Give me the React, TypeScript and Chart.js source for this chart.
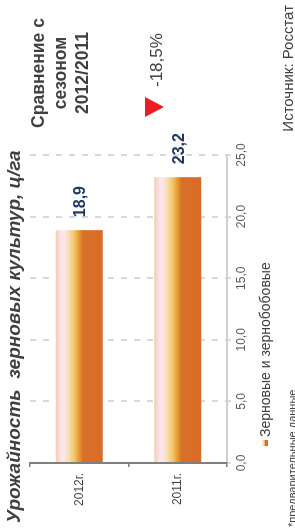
import React, { useEffect, useRef } from "react";
import { Chart, registerables } from "chart.js";

Chart.register(...registerables);

// ---- data ----
const categories = ["2012г.", "2011г."];
const yieldValues = [18.9, 23.2];
const seriesName = "Зерновые и зернобобовые";
const axisMin = 0;
const axisMax = 25;
const axisStep = 5;
const titleText = "Урожайность  зерновых культур, ц/га";
const compareLines = ["Сравнение с", "сезоном", "2012/2011"];
const changeText = "-18,5%";
const sourceText = "Источник: Росстат";
const footnoteText = "*предварительные данные";

const FONT = "'Liberation Sans', Arial, sans-serif";
const BAR_PCT = 0.477;
const W = 528;
const H = 295;

const fmt = (v: number) => v.toFixed(1).replace(".", ",");

function barGradient(ctx: CanvasRenderingContext2D, top: number, bottom: number) {
  const g = ctx.createLinearGradient(0, top, 0, bottom);
  g.addColorStop(0, "#f5cdb0");
  g.addColorStop(0.1, "#fbe2e6");
  g.addColorStop(0.17, "#fce6ee");
  g.addColorStop(0.28, "#f8dcb0");
  g.addColorStop(0.4, "#f1c468");
  g.addColorStop(0.5, "#e4982c");
  g.addColorStop(0.58, "#d9702a");
  g.addColorStop(1, "#d86c27");
  return g;
}

const annotate = {
  id: "annotate",
  afterDatasetsDraw(chart: any) {
    const { ctx } = chart;
    const meta = chart.getDatasetMeta(0);
    ctx.save();
    ctx.font = `bold 16px ${FONT}`;
    ctx.fillStyle = "#1f3864";
    ctx.textAlign = "left";
    ctx.textBaseline = "alphabetic";
    meta.data.forEach((bar: any, i: number) => {
      const { x, y } = bar.getProps(["x", "y"], true);
      ctx.fillText(fmt(yieldValues[i]), x + 13, y + 6);
    });
    ctx.restore();
  },
  afterDraw(chart: any) {
    const { ctx, chartArea } = chart;
    ctx.save();
    ctx.textBaseline = "alphabetic";
    // title
    ctx.fillStyle = "#404040";
    ctx.textAlign = "left";
    ctx.font = `italic bold 19px ${FONT}`;
    ctx.fillText(titleText, 5, 20);

    // comparison block
    ctx.font = `bold 17.5px ${FONT}`;
    ctx.textAlign = "center";
    const cx = 455;
    compareLines.forEach((t, i) => ctx.fillText(t, cx, 44 + i * 22));

    // triangle + change
    ctx.fillStyle = "#ee1c25";
    ctx.beginPath();
    ctx.moveTo(411, 145);
    ctx.lineTo(431, 145);
    ctx.lineTo(421, 164);
    ctx.closePath();
    ctx.fill();
    ctx.fillStyle = "#404040";
    ctx.textAlign = "left";
    ctx.font = `17px ${FONT}`;
    ctx.fillText(changeText, 441, 162);

    // legend
    const lx = chartArea.left + 17;
    ctx.fillStyle = barGradient(ctx, 262, 268);
    ctx.fillRect(lx, 262, 6, 6);
    ctx.fillStyle = "#404040";
    ctx.font = `14px ${FONT}`;
    ctx.fillText(seriesName, lx + 9, 270);

    // source
    ctx.textAlign = "right";
    ctx.font = `15px ${FONT}`;
    ctx.fillText(sourceText, 523, 293);

    // footnote
    ctx.textAlign = "left";
    ctx.font = `11px ${FONT}`;
    ctx.fillText(footnoteText, 1, 296);
    ctx.restore();
  },
};

export default function App() {
  const ref = useRef<HTMLCanvasElement | null>(null);

  useEffect(() => {
    document.body.style.margin = "0";
    const canvas = ref.current;
    if (!canvas) return;
    const chart = new Chart(canvas, {
      type: "bar",
      data: {
        labels: categories,
        datasets: [
          {
            label: seriesName,
            data: yieldValues,
            barPercentage: BAR_PCT,
            categoryPercentage: 1,
            borderWidth: 0,
            backgroundColor: (c: any) => {
              const ch = c.chart;
              const ys = ch.scales && ch.scales.y;
              if (!ys || c.dataIndex === undefined) return "#d96e28";
              const center = ys.getPixelForValue(c.dataIndex);
              const band = (ys.bottom - ys.top) / categories.length;
              const half = (band * BAR_PCT) / 2;
              if (!isFinite(center) || !isFinite(half) || half <= 0) return "#d96e28";
              return barGradient(ch.ctx, center - half, center + half);
            },
          },
        ],
      },
      options: {
        indexAxis: "y",
        animation: false,
        responsive: false,
        devicePixelRatio: 1,
        layout: { padding: { left: 0, right: 155, top: 30, bottom: 40 } },
        plugins: {
          legend: { display: false },
          title: { display: false },
          tooltip: { enabled: false },
        },
        scales: {
          x: {
            type: "linear",
            min: axisMin,
            max: axisMax,
            ticks: {
              stepSize: axisStep,
              color: "#595959",
              font: { size: 12, family: FONT },
              padding: 3,
              callback: (v: any) => fmt(Number(v)),
            },
            grid: {
              color: "#d9d9d9",
              lineWidth: 2,
              tickLength: 4,
              tickColor: "#d0d0d0",
              tickWidth: 1.5,
            },
            border: { display: true, color: "#d0d0d0", width: 2, dash: [6, 7] },
            afterFit: (s: any) => {
              s.height = 28;
            },
          },
          y: {
            type: "category",
            ticks: {
              color: "#404040",
              font: { size: 12, family: FONT },
              padding: 6,
            },
            grid: {
              offset: true,
              drawOnChartArea: false,
              tickLength: 4,
              color: "#7f7f7f",
              lineWidth: 1.5,
            },
            border: { display: true, color: "#7f7f7f", width: 2 },
            afterFit: (s: any) => {
              s.width = 65;
            },
          },
        },
      },
      plugins: [annotate],
    } as any);
    return () => chart.destroy();
  }, []);

  return (
    <div
      style={{
        position: "fixed",
        left: 0,
        top: 0,
        width: W,
        height: H,
        transformOrigin: "0 0",
        transform: `translate(0px, ${W}px) rotate(-90deg)`,
        background: "#fff",
      }}
    >
      <canvas ref={ref} width={W} height={H} style={{ width: W, height: H, display: "block" }} />
    </div>
  );
}
